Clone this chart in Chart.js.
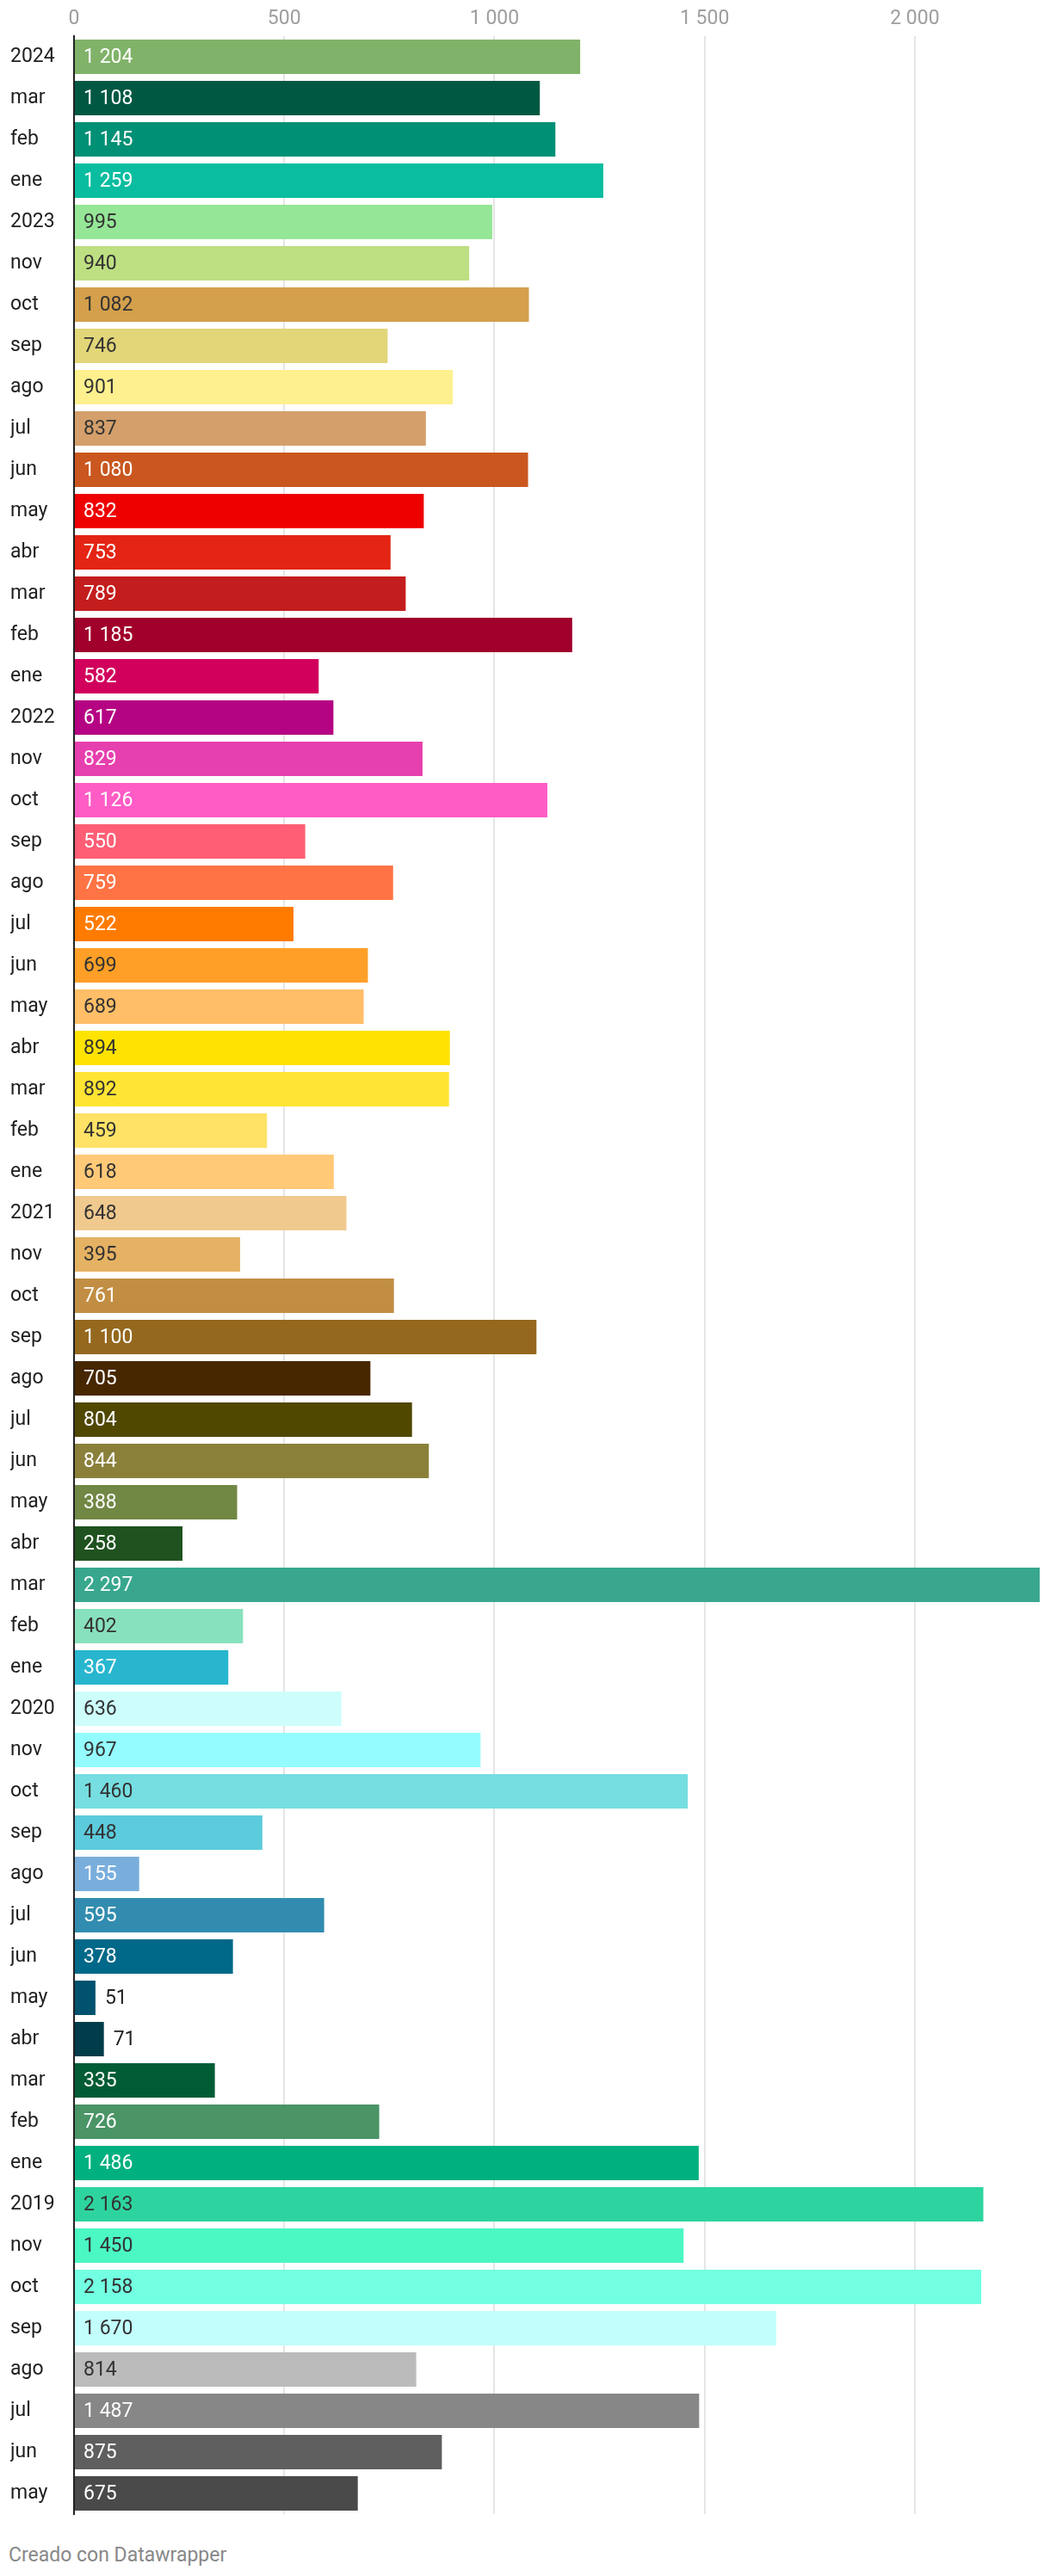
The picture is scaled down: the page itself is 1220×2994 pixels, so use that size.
<!DOCTYPE html>
<html>
<head>
<meta charset="utf-8">
<script src="https://cdn.jsdelivr.net/npm/chart.js@4"></script>
<style>
  body { margin: 0; background: #fff; font-family: Roboto, sans-serif; }
  #wrap { position: relative; width: 1220px; height: 2940px; }
  #footer { position: absolute; left: 10px; top: 2955px; line-height: 30px; font-size: 23px; color: #888; }
</style>
</head>
<body>
<div id="wrap"><canvas id="chart"></canvas></div>
<div id="footer">Creado con Datawrapper</div>
<script>
// Months, newest first (years mark the december bar)
const months = [
  '2024', 'mar', 'feb', 'ene',
  '2023', 'nov', 'oct', 'sep', 'ago', 'jul', 'jun', 'may', 'abr', 'mar', 'feb', 'ene',
  '2022', 'nov', 'oct', 'sep', 'ago', 'jul', 'jun', 'may', 'abr', 'mar', 'feb', 'ene',
  '2021', 'nov', 'oct', 'sep', 'ago', 'jul', 'jun', 'may', 'abr', 'mar', 'feb', 'ene',
  '2020', 'nov', 'oct', 'sep', 'ago', 'jul', 'jun', 'may', 'abr', 'mar', 'feb', 'ene',
  '2019', 'nov', 'oct', 'sep', 'ago', 'jul', 'jun', 'may'
];

const values = [
  1204, 1108, 1145, 1259,
  995, 940, 1082, 746, 901, 837, 1080, 832, 753, 789, 1185, 582,
  617, 829, 1126, 550, 759, 522, 699, 689, 894, 892, 459, 618,
  648, 395, 761, 1100, 705, 804, 844, 388, 258, 2297, 402, 367,
  636, 967, 1460, 448, 155, 595, 378, 51, 71, 335, 726, 1486,
  2163, 1450, 2158, 1670, 814, 1487, 875, 675
];

const xTicks = [0, 500, 1000, 1500, 2000];

const barColors = [
  '#80b369', '#005843', '#009076', '#0abda0',
  '#95e696', '#bedf82', '#d4a04c', '#e2d679', '#fef08e', '#d49f6a', '#c9571f', '#ee0000', '#e42414', '#c41d1d', '#a0002b', '#d0005c',
  '#b50483', '#e63fae', '#ff5cc6', '#ff5e75', '#ff7345', '#ff7b00', '#ff9f27', '#ffbe67', '#ffe300', '#ffe433', '#ffe266', '#ffc978',
  '#f0c98e', '#e5b263', '#c18e43', '#94681e', '#472700', '#504700', '#8a803a', '#718744', '#1f521e', '#38a78e', '#88e1bd', '#28b6cf',
  '#cdfefc', '#94fcfe', '#76dee1', '#5ccbdc', '#79aedc', '#328caf', '#006888', '#00526e', '#003c4a', '#005c35', '#4a9466', '#00b07f',
  '#2ed49f', '#4bf7c3', '#73ffe1', '#c2fffc', '#bbbbbb', '#878787', '#5f5f5f', '#4a4a4a'
];

// bars light enough to take dark text
const darkLabels = [4, 5, 6, 7, 8, 9, 22, 23, 24, 25, 26, 27, 28, 29, 38, 40, 41, 42, 43, 52, 53, 54, 55, 56];

function fmt(n) {
    return String(n).replace(/\B(?=(\d{3})+(?!\d))/g, ' ');
}

// value labels at the start of each bar, or after it when the bar is too short
const valueLabels = {
    id: 'valueLabels',
    afterDatasetsDraw(chart) {
        const ctx = chart.ctx;
        const meta = chart.getDatasetMeta(0);
        ctx.save();
        ctx.font = '23px Roboto';
        ctx.textBaseline = 'middle';
        ctx.textAlign = 'left';
        meta.data.forEach((bar, i) => {
            const text = fmt(values[i]);
            const w = ctx.measureText(text).width;
            if (bar.x - bar.base >= w + 20) {
                ctx.fillStyle = darkLabels.includes(i) ? '#333333' : '#ffffff';
                ctx.fillText(text, bar.base + 10, bar.y + 1);
            } else {
                ctx.fillStyle = '#222222';
                ctx.fillText(text, bar.x + 11, bar.y + 1);
            }
        });
        ctx.restore();
    }
};

const ctx = document.getElementById('chart').getContext('2d');
const chart = new Chart(ctx, {
    type: 'bar',
    data: {
        labels: months,
        datasets: [{
            data: values,
            backgroundColor: barColors,
            borderWidth: 0,
            categoryPercentage: 1,
            barPercentage: 40 / 48
        }]
    },
    options: {
        indexAxis: 'y',
        responsive: true,
        maintainAspectRatio: false,
        animation: false,
        layout: { padding: { left: 12, right: 12, top: 0, bottom: 18 } },
        plugins: {
            legend: { display: false },
            tooltip: { enabled: false }
        },
        scales: {
            x: {
                position: 'top',
                min: 0,
                max: 2297,
                afterFit: (scale) => { scale.height = 42; },
                afterBuildTicks: (scale) => {
                    scale.ticks = xTicks.map(v => ({ value: v }));
                },
                ticks: {
                    padding: 6,
                    color: '#9e9e9e',
                    font: { family: 'Roboto', size: 23 },
                    callback: (v) => fmt(v)
                },
                grid: { color: '#e5e5e5', lineWidth: 2, drawTicks: false },
                border: { display: false }
            },
            y: {
                afterFit: (scale) => { scale.width = 74; },
                ticks: {
                    autoSkip: false,
                    crossAlign: 'far',
                    padding: 0,
                    color: '#1f1f1f',
                    font: { family: 'Roboto', size: 23 }
                },
                grid: { display: false },
                border: { display: true, color: '#222222', width: 2, z: 1 }
            }
        }
    },
    plugins: [valueLabels]
});
</script>
</body>
</html>
